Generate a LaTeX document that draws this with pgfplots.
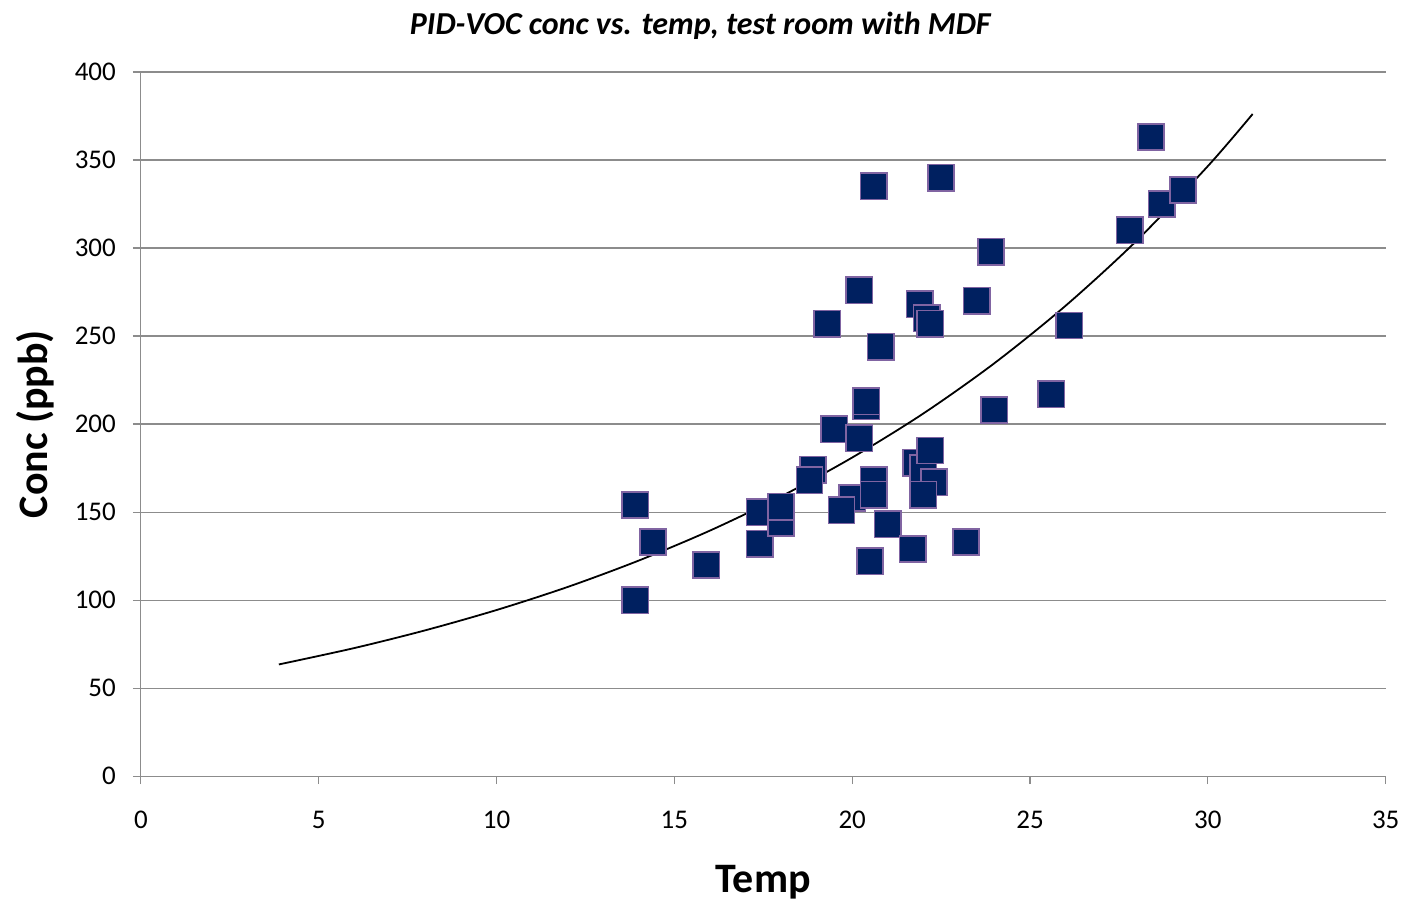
\documentclass[border=0pt]{standalone}
\usepackage{pgfplots}
\pgfplotsset{compat=1.18}
\usepackage{fontspec}
\setmainfont{Carlito}
\definecolor{markfill}{RGB}{0,32,96}
\definecolor{markedge}{RGB}{128,100,162}
\definecolor{gridgray}{RGB}{140,140,140}
\begin{document}
\begin{tikzpicture}
\begin{axis}[
  scale only axis,
  width=623pt, height=352.5pt,
  xmin=0, xmax=35, ymin=0, ymax=400,
  xtick={0,5,...,35}, ytick={0,50,...,400},
  axis x line=bottom, axis y line=left,
  axis line style={gridgray, -},
  tick style={gridgray, line width=0.6pt},
  tick align=outside, major tick length=4pt,
  ymajorgrids, grid style={gridgray, line width=0.6pt},
  /pgf/number format/assume math mode=true,
  ticklabel style={font=\fontsize{13.5}{15}\selectfont},
  xticklabel style={yshift=-10pt},
  yticklabel style={xshift=-5pt},
  title={\fontsize{16}{18}\selectfont\bfseries\itshape PID-VOC conc vs. temp, test room with MDF},
  title style={at={(axis description cs:0.5,1)}, anchor=center, xshift=-31.5pt, yshift=17pt, inner sep=0pt},
  xlabel={\fontsize{21}{24}\selectfont\bfseries Temp},
  ylabel={\fontsize{21}{24}\selectfont\bfseries Conc (ppb)},
  xlabel style={at={(axis description cs:0.5,0)}, anchor=center, yshift=-53pt, inner sep=0pt},
  ylabel style={at={(axis description cs:-0.085,0.5)}, anchor=center, inner sep=0pt},
]
\addplot[only marks, mark=square*, mark size=6.6pt,
  mark options={fill=markfill, draw=markedge, line width=0.8pt}] coordinates {
(13.9,154) (13.9,100) (14.4,133) (15.9,120) (17.4,132) (17.4,150)
(18.0,144) (18.0,153) (18.9,174) (18.8,168) (19.3,257) (19.5,197)
(20.0,158) (19.7,151) (20.2,276) (20.2,192) (20.4,210) (20.4,213)
(20.5,122) (20.6,335) (20.6,168) (20.6,160) (20.8,244) (21.0,143)
(21.7,129) (21.8,178) (21.9,268) (22.0,175) (22.1,260) (22.2,257)
(22.2,185) (22.3,167) (22.0,160) (22.5,340) (23.2,133) (23.5,270)
(23.9,298) (24.0,208) (25.6,217) (26.1,256) (27.8,310) (28.4,363)
(28.7,325) (29.3,333)
};
\addplot[black, line width=0.9pt, smooth] coordinates {
(3.88,63.5) (6,72.8) (8,82.9) (10,94.4) (12,107.5) (14,122.5)
(16,139.5) (18,158.9) (20,181.0) (22,206.0) (24,234.6) (26,267.2)
(28,304.2) (30,346.5) (31.26,376.1)
};
\end{axis}
\path (current axis.south west) ++(-70.5pt,-64pt) coordinate (bbl);
\path (current axis.north east) ++(9.5pt,36pt) coordinate (btr);
\path (bbl) rectangle (btr);
\end{tikzpicture}
\end{document}
